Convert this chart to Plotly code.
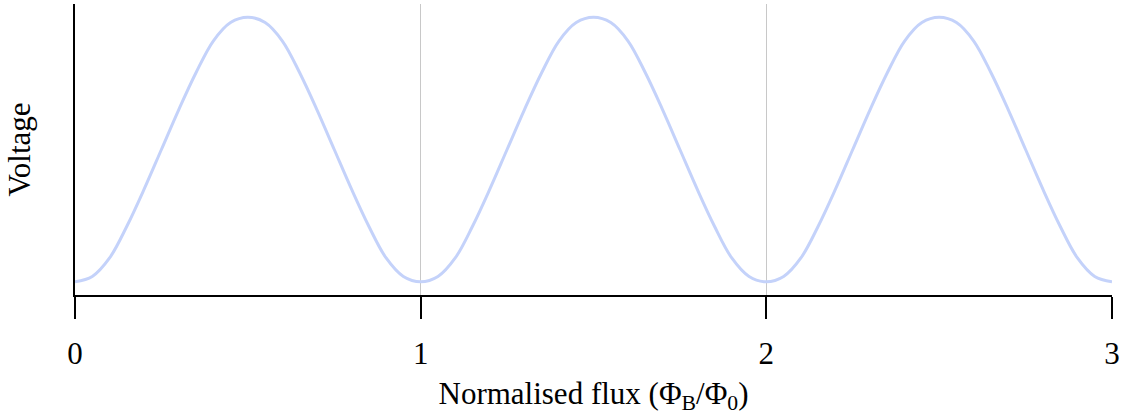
import plotly.graph_objects as go

# Normalised flux samples (Phi_B / Phi_0) and the measured SQUID voltage (arb. units)
flux = [
    0.00, 0.05, 0.10, 0.15, 0.20, 0.25, 0.30, 0.35, 0.40, 0.45,
    0.50, 0.55, 0.60, 0.65, 0.70, 0.75, 0.80, 0.85, 0.90, 0.95,
    1.00, 1.05, 1.10, 1.15, 1.20, 1.25, 1.30, 1.35, 1.40, 1.45,
    1.50, 1.55, 1.60, 1.65, 1.70, 1.75, 1.80, 1.85, 1.90, 1.95,
    2.00, 2.05, 2.10, 2.15, 2.20, 2.25, 2.30, 2.35, 2.40, 2.45,
    2.50, 2.55, 2.60, 2.65, 2.70, 2.75, 2.80, 2.85, 2.90, 2.95,
    3.00,
]
voltage = [
    0.00, 0.02, 0.09, 0.21, 0.35, 0.50, 0.65, 0.79, 0.91, 0.98,
    1.00, 0.98, 0.91, 0.79, 0.65, 0.50, 0.35, 0.21, 0.09, 0.02,
    0.00, 0.02, 0.09, 0.21, 0.35, 0.50, 0.65, 0.79, 0.91, 0.98,
    1.00, 0.98, 0.91, 0.79, 0.65, 0.50, 0.35, 0.21, 0.09, 0.02,
    0.00, 0.02, 0.09, 0.21, 0.35, 0.50, 0.65, 0.79, 0.91, 0.98,
    1.00, 0.98, 0.91, 0.79, 0.65, 0.50, 0.35, 0.21, 0.09, 0.02,
    0.00,
]
tick_vals = [0, 1, 2, 3]
tick_text = ["0", "1", "2", "3"]

FONT = "Liberation Serif, DejaVu Serif, serif"
SIZE = 31

fig = go.Figure()
fig.add_trace(go.Scatter(
    x=flux, y=voltage, mode="lines",
    line=dict(color="#c4d2fa", width=3, shape="spline", smoothing=1.0),
    hoverinfo="skip", showlegend=False,
))

fig.update_layout(
    width=1123, height=418,
    margin=dict(l=75, r=11, t=4, b=123),
    paper_bgcolor="white", plot_bgcolor="white",
    font=dict(family=FONT, size=SIZE, color="black"),
    xaxis=dict(
        range=[0, 3], tickvals=tick_vals, ticktext=tick_text,
        showgrid=True, gridcolor="#c8c8c8", gridwidth=1,
        showline=True, linecolor="black", linewidth=1.5,
        ticks="outside", ticklen=22, tickwidth=1.5, tickcolor="black",
        tickfont=dict(family=FONT, size=SIZE), ticklabelstandoff=8,
        zeroline=False, automargin=False,
        title=dict(text="Normalised flux (Φ<sub>B</sub>/Φ<sub>0</sub>)",
                   font=dict(family=FONT, size=SIZE), standoff=12),
    ),
    yaxis=dict(
        range=[-0.05, 1.05], showticklabels=False, showgrid=False,
        showline=True, linecolor="black", linewidth=1.5,
        ticks="", zeroline=False, automargin=False,
        title=dict(text="Voltage", font=dict(family=FONT, size=SIZE), standoff=33),
    ),
)

fig.write_html("out.html")
